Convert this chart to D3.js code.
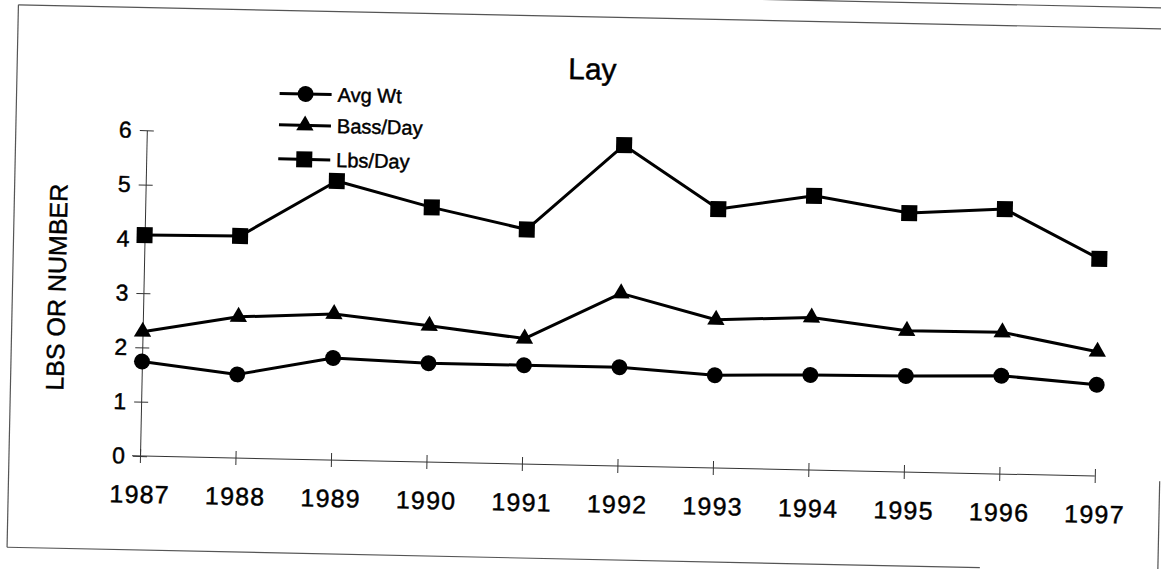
<!DOCTYPE html>
<html>
<head>
<meta charset="utf-8">
<script src="https://cdn.jsdelivr.net/npm/d3@7"></script>
<style>
  html, body { margin: 0; padding: 0; background: #fff; }
  svg { display: block; }
  text { font-family: Arial, "Liberation Sans", Helvetica, sans-serif; fill: #000; stroke: #000; stroke-width: 0.45px; }
</style>
</head>
<body>
<svg id="chart" width="1161" height="569"></svg>
<script>
// ---- Data ----
const years = [1987, 1988, 1989, 1990, 1991, 1992, 1993, 1994, 1995, 1996, 1997];
const avgWt   = [1.74, 1.54, 1.88, 1.82, 1.82, 1.82, 1.71, 1.75, 1.77, 1.81, 1.68];
const bassDay = [2.29, 2.60, 2.69, 2.51, 2.31, 3.18, 2.73, 2.81, 2.60, 2.61, 2.29];
const lbsDay  = [4.07, 4.09, 5.14, 4.69, 4.32, 5.91, 4.77, 5.05, 4.77, 4.88, 4.00];
const yTicks = [0, 1, 2, 3, 4, 5, 6];
const seriesNames = ["Avg Wt", "Bass/Day", "Lbs/Day"];
const titleText = "Lay";
const yAxisTitle = "LBS OR NUMBER";

// ---- Layout ----
const x0 = 140, x1 = 1095, yBase = 456, yTop = 130.2;
const tilt = 1.2; // the scanned page is slightly rotated

const svg = d3.select("#chart");
const g = svg.append("g").attr("transform", `rotate(${tilt},${x0},${yBase})`);

// frame (scanned page border)
const frame = g.append("g").attr("stroke", "#555").attr("stroke-width", 1.2).attr("fill", "none");
frame.append("line").attr("x1", 9).attr("y1", 7.5).attr("x2", 1175).attr("y2", 7.5);
frame.append("line").attr("x1", 9).attr("y1", 7.5).attr("x2", 9).attr("y2", 550);
frame.append("line").attr("x1", 9).attr("y1", 550).attr("x2", 982).attr("y2", 550);
frame.append("line").attr("x1", 1160).attr("y1", 460).attr("x2", 1160).attr("y2", 560);
frame.append("line").attr("x1", 745).attr("y1", -13.5).attr("x2", 1180).attr("y2", -13.5);

const x = d3.scaleLinear().domain([years[0], years[years.length - 1]]).range([x0, x1]);
const y = d3.scaleLinear().domain([0, 6]).range([yBase, yTop]);

// axes with cross ticks
const yAxis = d3.axisLeft(y).tickValues(yTicks).tickFormat(d3.format("d")).tickSize(7).tickSizeOuter(0);
const yg = g.append("g").attr("transform", `translate(${x0},0)`).call(yAxis);
yg.select(".domain").attr("stroke", "#333").attr("stroke-width", 1);
yg.selectAll(".tick line").attr("x1", -7).attr("x2", 7).attr("stroke", "#333");
yg.selectAll(".tick text").attr("font-size", 23).attr("fill", "#000").attr("x", -15).attr("font-family", null);

const xAxis = d3.axisBottom(x).tickValues(years).tickFormat(d3.format("d")).tickSize(7).tickSizeOuter(0);
const xg = g.append("g").attr("transform", `translate(0,${yBase})`).call(xAxis);
xg.select(".domain").attr("stroke", "#333").attr("stroke-width", 1).attr("d", `M${x0 - 8},0H${x1}`);
xg.selectAll(".tick line").attr("y1", -7).attr("y2", 7).attr("stroke", "#333");
xg.selectAll(".tick text").attr("font-size", 25).attr("letter-spacing", 1.2).attr("font-family", null)
  .attr("fill", "#000").attr("y", 47).attr("dy", 0);

// axis title
g.append("text")
  .attr("transform", `translate(53,289) rotate(-90)`)
  .attr("text-anchor", "middle").attr("dominant-baseline", "central")
  .attr("font-size", 25).text(yAxisTitle);

// title
g.append("text").attr("x", 560).attr("y", 70).attr("font-size", 30).text(titleText);

// series
const series = [
  { name: seriesNames[0], values: avgWt,   sym: d3.symbolCircle,   size: 200 },
  { name: seriesNames[1], values: bassDay, sym: d3.symbolTriangle, size: 130 },
  { name: seriesNames[2], values: lbsDay,  sym: d3.symbolSquare,   size: 256 }
];
const line = d3.line().x((d, i) => x(years[i])).y(d => y(d));

series.forEach(s => {
  g.append("path").datum(s.values).attr("d", line)
    .attr("fill", "none").attr("stroke", "#000").attr("stroke-width", 3).attr("stroke-linejoin", "round");
  g.selectAll(null).data(s.values).enter().append("path")
    .attr("d", d3.symbol().type(s.sym).size(s.size))
    .attr("transform", (d, i) => `translate(${x(years[i])},${y(d)})`)
    .attr("fill", "#000");
});

// legend
const legY = [90.6, 122, 156];
const lg = g.append("g");
series.forEach((s, i) => {
  const row = lg.append("g").attr("transform", `translate(298,${legY[i]})`);
  row.append("line").attr("x1", -26).attr("x2", 26).attr("stroke", "#000").attr("stroke-width", 3);
  row.append("path").attr("d", d3.symbol().type(s.sym).size(s.size)).attr("fill", "#000");
  row.append("text").attr("x", 32).attr("dy", "0.35em").attr("font-size", 20).text(s.name);
});
</script>
</body>
</html>
